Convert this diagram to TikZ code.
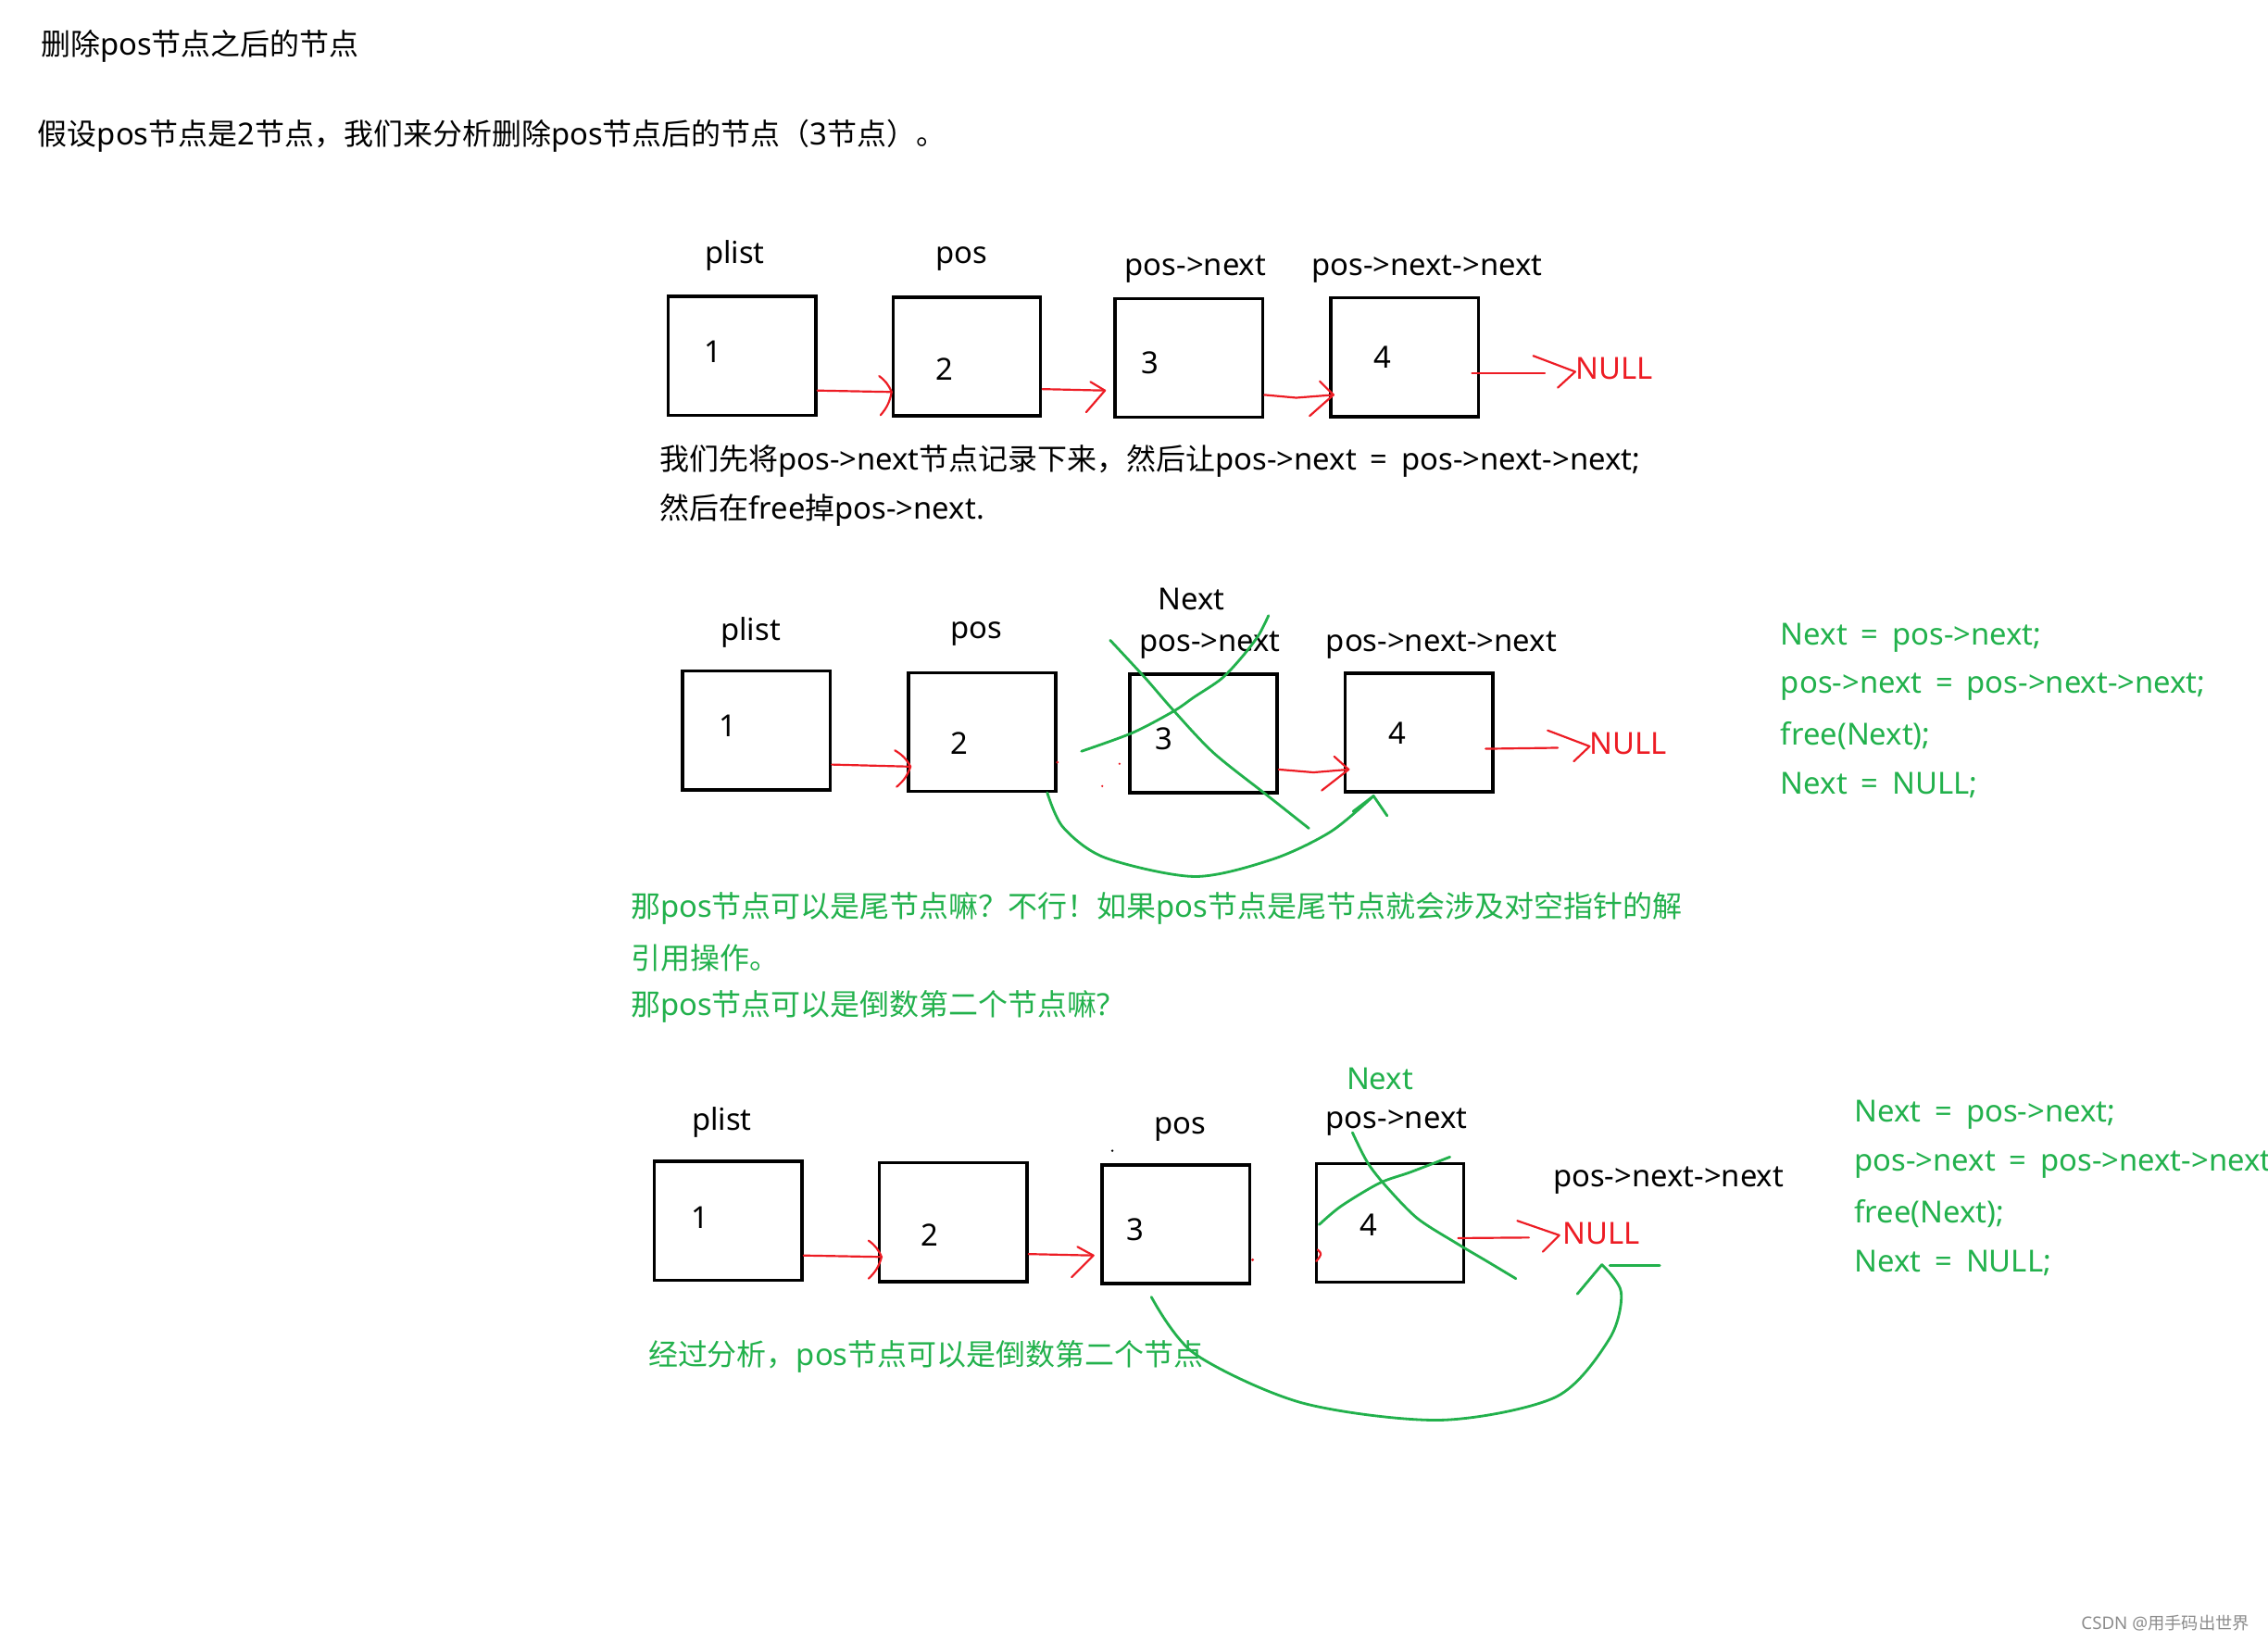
\documentclass[tikz,border=0pt]{standalone}
\usepackage{fontspec}
\setmainfont{Noto Sans}
\newfontfamily\cjkfont[Scale=0.975]{Noto Sans CJK SC}
\newcommand\zh[1]{{\cjkfont #1}}
\newcommand\eq{\hspace{9.5pt}=\hspace{9.5pt}}
\usetikzlibrary{calc}
\definecolor{pred}{RGB}{237,28,36}
\definecolor{pgreen}{RGB}{34,177,76}
\begin{document}
\begin{tikzpicture}[x=1pt,y=-1pt,
  every node/.style={inner sep=0pt, font=\fontsize{21}{25}\selectfont},
  box/.style={draw, line width=2.2pt, minimum width=102pt, minimum height=82pt},
  txt/.style={anchor=west},
  gtxt/.style={anchor=west, text=pgreen},
  redl/.style={draw=pred, line width=1.4pt, line cap=round, line join=round},
  grn/.style={draw=pgreen, line width=1.8pt, line cap=round, line join=round},
]
\clip (0,0) rectangle (1568,1134);
\fill[white] (0,0) rectangle (1568,1134);

% ---------- header text ----------
\node[txt] (title) at (28,32) {\zh{删除}pos\zh{节点之后的节点}};
\node[txt] (intro) at (26,94) {\zh{假设}pos\zh{节点是}2\zh{节点，我们来分析删除}pos\zh{节点后的节点（}3\zh{节点）。}};

% ---------- section 1 ----------
\node (s1l1) at (508,177) {plist};
\node (s1l2) at (665,179) {pos};
\node (s1l3) at (826.5,186) {pos->next};
\node (s1l4) at (986.5,186) {pos->next->next};
\node[box] (s1b1) at (513,246) {};
\node[box] (s1b2) at (668.5,246.5) {};
\node[box] (s1b3) at (822,247.5) {};
\node[box] (s1b4) at (971,247) {};
\node (s1n1) at (493,243) {1};
\node (s1n2) at (653,255) {2};
\node (s1n3) at (795,251) {3};
\node (s1n4) at (956,247) {4};
\node[txt,text=pred] (null1) at (1089,255) {NULL};
% arrows
\coordinate (a1t) at ($(s1b2.west)+(0,24.5)$);
\draw[redl] ($(s1b1.east)+(0,24)$) -- (a1t);
\draw[redl] ($(a1t)+(-8.6,-11)$) to[bend left=15] (a1t) to[bend left=15] ($(a1t)+(-7.6,16)$);
\coordinate (a2t) at ($(s1b3.west)+(-6,22.5)$);
\draw[redl] ($(s1b2.east)+(0,22.5)$) -- (a2t);
\draw[redl] ($(a2t)+(-10,-6)$) -- (a2t) -- ($(a2t)+(-13,15)$);
\coordinate (a3t) at ($(s1b4.west)+(3,26)$);
\draw[redl] ($(s1b3.east)+(0,25.5)$) -- ($(s1b3.east)+(22,27.5)$) -- (a3t);
\draw[redl] ($(a3t)+(-9.5,-9.4)$) -- (a3t) -- ($(a3t)+(-16.5,14.6)$);
\coordinate (n1e) at ($(null1.west)+(-21,3)$);
\draw[redl] ($(s1b4.east)+(-5.5,11)$) -- (n1e);
\draw[redl] ($(null1.west)+(-29,-9)$) -- ($(null1.west)+(0,2)$) -- ($(null1.west)+(-12,13)$);

\node[txt] (note1) at (456,319) {\zh{我们先将}pos->next\zh{节点记录下来，然后让}pos->next\eq pos->next->next;};
\node[txt] (note2) at (456,353) {\zh{然后在}free\zh{掉}pos->next.};

% ---------- section 2 ----------
\node (s2next) at (823.5,414) {Next};
\node (s2l1) at (519,437) {plist};
\node (s2l2) at (675,438) {pos};
\node (s2l3) at (836.5,446) {pos->next};
\node (s2l4) at (996.5,446) {pos->next->next};
\node[box] (s2b1) at (523,505) {};
\node[box] (s2b2) at (679,506) {};
\node[box] (s2b3) at (832,507) {};
\node[box] (s2b4) at (981,506.5) {};
\node (s2n1) at (503,502) {1};
\node (s2n2) at (663,514) {2};
\node (s2n3) at (805,511) {3};
\node (s2n4) at (966,507) {4};
\node[txt,text=pred] (null2) at (1099,514) {NULL};
\coordinate (b1t) at ($(s2b2.west)+(2.6,24)$);
\draw[redl] ($(s2b1.east)+(0,23.6)$) -- (b1t);
\draw[redl] ($(b1t)+(-10.8,-11.2)$) to[bend left=15] (b1t) to[bend left=15] ($(b1t)+(-9.6,14)$);
\coordinate (b2t) at ($(s2b4.west)+(3.5,25.5)$);
\draw[redl] ($(s2b3.east)+(0,25)$) -- ($(s2b3.east)+(24,27)$) -- (b2t);
\draw[redl] ($(b2t)+(-10,-9)$) -- (b2t) -- ($(b2t)+(-18.6,14.5)$);
\coordinate (n2e) at ($(null2.west)+(-22,3)$);
\draw[redl] ($(s2b4.east)+(-6,11.2)$) -- (n2e);
\draw[redl] ($(null2.west)+(-29,-9)$) -- ($(null2.west)+(0,2)$) -- ($(null2.west)+(-11,12.4)$);
\fill[pred] (731,527) circle (1);
\fill[pred] (774,528) circle (0.8);
\fill[pred] (762,543.5) circle (0.8);
% green strokes
\draw[grn] plot[smooth] coordinates {(877,425.6) (870,439.4) (858.5,454.4) (844.4,469.3) (825.5,482) (811.4,491.7) (783,506.6) (747.7,519.4)};
\draw[grn] plot[smooth] coordinates {(767.5,442.6) (792,469) (810.8,490.6) (839,520.5) (876.6,550.3) (904.9,572.7)};
\draw[grn] plot[smooth] coordinates {(724,548) (735,572) (764,593) (826,606) (880,594) (920,575) (949.6,550.3)};
\draw[grn] (935.5,561) -- (949.6,550.3) -- (959,564);

\node[gtxt] (c1a) at (1231,441) {Next\eq pos->next;};
\node[gtxt] (c1b) at (1231,475) {pos->next\eq pos->next->next;};
\node[gtxt] (c1c) at (1231,509) {free(Next);};
\node[gtxt] (c1d) at (1231,543) {Next\eq NULL;};

\node[gtxt] (q1) at (436,628) {\zh{那}pos\zh{节点可以是尾节点嘛？不行！如果}pos\zh{节点是尾节点就会涉及对空指针的解}};
\node[gtxt] (q2) at (436,662) {\zh{引用操作。}};
\node[gtxt] (q3) at (436,696) {\zh{那}pos\zh{节点可以是倒数第二个节点嘛}?};

% ---------- section 3 ----------
\node[text=pgreen] (s3next) at (954,746) {Next};
\node (s3l1) at (499,776) {plist};
\node (s3l3) at (816,781) {pos};
\node (s3l4) at (965.5,776) {pos->next};
\node (s3l5) at (1153.5,816) {pos->next->next};
\node[box] (s3b1) at (503.5,844) {};
\node[box] (s3b2) at (659,845) {};
\node[box] (s3b3) at (813,846.5) {};
\node[box] (s3b4) at (961,845.5) {};
\node (s3n1) at (484,842) {1};
\node (s3n2) at (643,854) {2};
\node (s3n3) at (785,850) {3};
\node (s3n4) at (946,847) {4};
\node[txt,text=pred] (null3) at (1080,853) {NULL};
\coordinate (c1t) at ($(s3b2.west)+(2.6,24)$);
\draw[redl] ($(s3b1.east)+(0,24)$) -- (c1t);
\draw[redl] ($(c1t)+(-9,-11.3)$) to[bend left=15] (c1t) to[bend left=15] ($(c1t)+(-9,15)$);
\coordinate (c2t) at ($(s3b3.west)+(-5,21.5)$);
\draw[redl] ($(s3b2.east)+(0,22)$) -- (c2t);
\draw[redl] ($(c2t)+(-11,-6)$) -- (c2t) -- ($(c2t)+(-15,15)$);
\coordinate (n3e) at ($(null3.west)+(-23,2.6)$);
\draw[redl] ($(s3b4.east)+(-5,10.5)$) -- (n3e);
\draw[redl] ($(null3.west)+(-31,-9)$) -- ($(null3.west)+(-2,1)$) -- ($(null3.west)+(-13.4,12.4)$);
\fill[pred] (866,871) circle (1);
\draw[redl] (911,864) .. controls (914,867) .. (910,872);
\fill (769,795.6) circle (0.9);
% green strokes
\draw[grn] plot[smooth] coordinates {(935,783) (945.6,804) (959,821) (980,842.4) (1006.7,859.4) (1028,872) (1048,884)};
\draw[grn] plot[smooth] coordinates {(912,846.7) (927,834) (953.6,818) (974.8,810.5) (1002.4,799.9)};
\draw[grn] plot[smooth] coordinates {(796,896.7) (826,936) (900.5,970) (996,981.8) (1075.7,965.8) (1112.8,925.4) (1120.8,893.5) (1107.5,874.3)};
\draw[grn] (1090.5,894.6) -- (1107.5,874.3);
\draw[grn] (1113,874.8) -- (1147.5,874.8);

\node[gtxt] (c2a) at (1282,771) {Next\eq pos->next;};
\node[gtxt] (c2b) at (1282,805) {pos->next\eq pos->next->next;};
\node[gtxt] (c2c) at (1282,839) {free(Next);};
\node[gtxt] (c2d) at (1282,873) {Next\eq NULL;};

\node[gtxt] (concl) at (448,938) {\zh{经过分析，}pos\zh{节点可以是倒数第二个节点}};

\node[text=black!45, font=\fontsize{12}{14}\selectfont] (wm) at (1497,1122) {CSDN @\zh{用手码出世界}};
\end{tikzpicture}
\end{document}
